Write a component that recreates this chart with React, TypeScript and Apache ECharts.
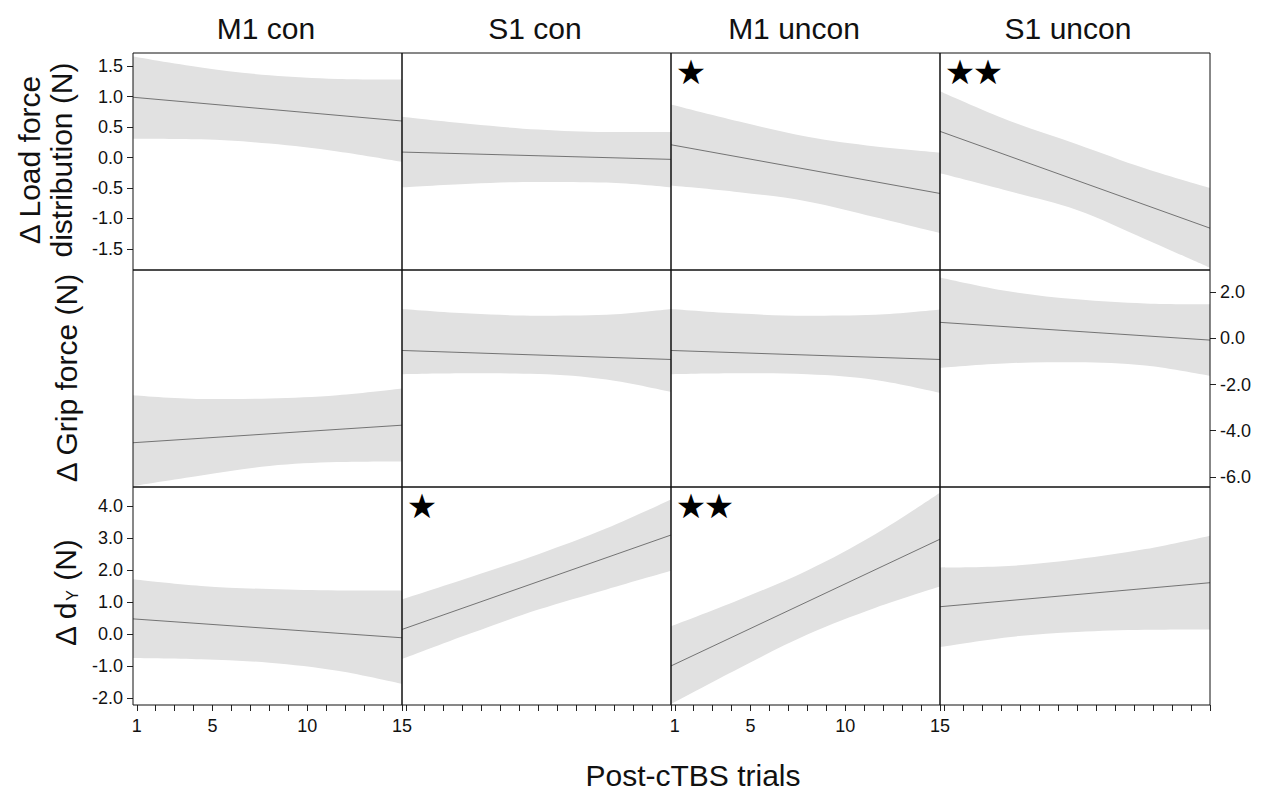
import React, { useEffect, useRef } from "react";
import * as echarts from "echarts";

// ---------- data ----------
const COLUMNS = ["M1 con", "S1 con", "M1 uncon", "S1 uncon"];
const X_POINTS = [0.8, 4.4, 8, 11.6, 15];
const X_FIT = [0.8, 15];
const X_TICKS = [1, 2, 3, 4, 5, 6, 7, 8, 9, 10, 11, 12, 13, 14, 15];
const X_LABELS = [1, 5, 10, 15];

// Row 1: Δ Load force distribution (N)
const LOAD_RANGE = [-1.847, 1.717];
const LOAD_TICKS = [-1.5, -1, -0.5, 0, 0.5, 1, 1.5];
const loadFit = [[0.99, 0.6], [0.09, -0.03], [0.21, -0.59], [0.43, -1.16]];
const loadUpper = [
  [1.66, 1.48, 1.35, 1.29, 1.28],
  [0.67, 0.55, 0.46, 0.42, 0.42],
  [0.87, 0.59, 0.34, 0.18, 0.08],
  [1.09, 0.61, 0.22, -0.18, -0.5],
];
const loadLower = [
  [0.31, 0.3, 0.23, 0.1, -0.07],
  [-0.49, -0.43, -0.4, -0.41, -0.49],
  [-0.46, -0.57, -0.72, -0.98, -1.24],
  [-0.26, -0.55, -0.86, -1.34, -1.81],
];

// Row 2: Δ Grip force (N)
const GRIP_RANGE = [-6.44, 2.97];
const GRIP_TICKS = [-6, -4, -2, 0, 2];
const gripFit = [[-4.52, -3.76], [-0.52, -0.91], [-0.52, -0.91], [0.7, -0.07]];
const gripUpper = [
  [-2.46, -2.62, -2.6, -2.46, -2.17],
  [1.28, 1.08, 0.99, 1.03, 1.28],
  [1.28, 1.08, 0.99, 1.03, 1.26],
  [2.65, 2.05, 1.7, 1.52, 1.48],
];
const gripLower = [
  [-6.4, -5.94, -5.53, -5.36, -5.33],
  [-1.55, -1.51, -1.54, -1.78, -2.32],
  [-1.55, -1.51, -1.55, -1.8, -2.36],
  [-1.27, -1.07, -1.03, -1.17, -1.62],
];

// Row 3: Δ dY (N)
const DY_RANGE = [-2.22, 4.59];
const DY_TICKS = [-2, -1, 0, 1, 2, 3, 4];
const dyFit = [[0.47, -0.12], [0.14, 3.09], [-1.0, 2.96], [0.85, 1.6]];
const dyUpper = [
  [1.71, 1.5, 1.4, 1.36, 1.36],
  [1.08, 1.77, 2.49, 3.3, 4.2],
  [0.24, 1.07, 1.98, 3.12, 4.41],
  [2.07, 2.12, 2.33, 2.65, 3.07],
];
const dyLower = [
  [-0.75, -0.79, -0.9, -1.15, -1.56],
  [-0.79, 0.01, 0.76, 1.39, 1.97],
  [-2.19, -1.07, -0.02, 0.82, 1.48],
  [-0.41, -0.1, 0.06, 0.13, 0.14],
];

// significance stars: [row, col, count]
const STARS = [
  [0, 2, 1],
  [0, 3, 2],
  [2, 1, 1],
  [2, 2, 2],
];

// ---------- layout ----------
const FONT = "Liberation Sans, Arial, sans-serif";
const GRID_LEFT = [133, 402, 671, 940];
const GRID_WIDTH = [269, 269, 269, 270];
const GRID_TOP = [53, 270, 487];
const GRID_HEIGHT = [217, 217, 218];

const ROWS = [
  { range: LOAD_RANGE, ticks: LOAD_TICKS, fit: loadFit, upper: loadUpper, lower: loadLower, axisCol: 0, pos: "left" },
  { range: GRIP_RANGE, ticks: GRIP_TICKS, fit: gripFit, upper: gripUpper, lower: gripLower, axisCol: 3, pos: "right" },
  { range: DY_RANGE, ticks: DY_TICKS, fit: dyFit, upper: dyUpper, lower: dyLower, axisCol: 0, pos: "left" },
];

function buildOption() {
  const grid: any[] = [];
  const xAxis: any[] = [];
  const yAxis: any[] = [];
  const series: any[] = [];
  ROWS.forEach((row, r) => {
    COLUMNS.forEach((_, c) => {
      const g = r * 4 + c;
      grid.push({
        left: GRID_LEFT[c],
        top: GRID_TOP[r],
        width: GRID_WIDTH[c],
        height: GRID_HEIGHT[r],
        show: true,
        z: 10,
        borderColor: "#111",
        borderWidth: 1,
        backgroundColor: "transparent",
        containLabel: false,
      });
      const bottomRow = r === 2;
      xAxis.push({
        type: "value",
        gridIndex: g,
        min: 0.8,
        max: 15,
        show: bottomRow,
        position: "bottom",
        axisLine: { show: false, onZero: false },
        splitLine: { show: false },
        axisTick: {
          show: bottomRow,
          customValues: X_TICKS,
          length: 6,
          lineStyle: { color: "#222", width: 1 },
        },
        axisLabel: {
          show: bottomRow && (c === 0 || c === 2),
          customValues: X_LABELS,
          fontSize: 18,
          fontFamily: FONT,
          color: "#111",
          margin: 12,
        },
      });
      const hasAxis = c === row.axisCol;
      yAxis.push({
        type: "value",
        gridIndex: g,
        min: row.range[0],
        max: row.range[1],
        show: hasAxis,
        position: row.pos,
        axisLine: { show: false, onZero: false },
        splitLine: { show: false },
        axisTick: {
          show: true,
          customValues: row.ticks,
          length: 6,
          lineStyle: { color: "#222", width: 1 },
        },
        axisLabel: {
          show: true,
          customValues: row.ticks,
          formatter: (v: number) => Number(v).toFixed(1),
          fontSize: 18,
          fontFamily: FONT,
          color: "#111",
          margin: 10,
        },
      });
      const lo = row.lower[c];
      const up = row.upper[c];
      // gray band: fill below upper edge, then cover below lower edge with white
      series.push({
        type: "line",
        xAxisIndex: g,
        yAxisIndex: g,
        data: X_POINTS.map((x, i) => [x, up[i]]),
        symbol: "none",
        smooth: 0.35,
        lineStyle: { opacity: 0, width: 0 },
        areaStyle: { color: "#e1e1e1", opacity: 1, origin: "start" },
        silent: true,
        z: 2,
      });
      series.push({
        type: "line",
        xAxisIndex: g,
        yAxisIndex: g,
        data: X_POINTS.map((x, i) => [x, lo[i]]),
        symbol: "none",
        smooth: 0.35,
        lineStyle: { opacity: 0, width: 0 },
        areaStyle: { color: "#ffffff", opacity: 1, origin: "start" },
        silent: true,
        z: 3,
      });
      series.push({
        type: "line",
        xAxisIndex: g,
        yAxisIndex: g,
        data: X_FIT.map((x, i) => [x, row.fit[c][i]]),
        symbol: "none",
        lineStyle: { color: "#666", width: 0.9 },
        silent: true,
        z: 4,
      });
    });
  });

  const graphic: any[] = [];
  const titleX = [266, 535, 794, 1068];
  COLUMNS.forEach((t, c) => {
    graphic.push({
      type: "text",
      x: titleX[c],
      y: 28,
      z: 100,
      style: { text: t, font: `30px ${FONT}`, fill: "#111", align: "center", verticalAlign: "middle" },
    });
  });
  const yNames = [
    { text: "Δ Load force", x: 29, y: 160 },
    { text: "distribution (N)", x: 61, y: 160 },
    { text: "Δ Grip force (N)", x: 66, y: 378 },
  ];
  yNames.forEach((n) => {
    graphic.push({
      type: "text",
      x: n.x,
      y: n.y,
      z: 100,
      rotation: Math.PI / 2,
      style: { text: n.text, font: `30px ${FONT}`, fill: "#111", align: "center", verticalAlign: "middle" },
    });
  });
  graphic.push({
    type: "text",
    x: 63,
    y: 593,
    z: 100,
    rotation: Math.PI / 2,
    style: {
      text: "{a|Δ d}{s|Y}{a| (N)}",
      fill: "#111",
      align: "center",
      verticalAlign: "middle",
      rich: {
        a: { fontSize: 30, fontFamily: FONT, fill: "#111", lineHeight: 34, verticalAlign: "bottom" },
        s: { fontSize: 16, fontFamily: FONT, fill: "#111", lineHeight: 34, verticalAlign: "bottom", padding: [0, 1, 0, 1] },
      },
    },
  });
  graphic.push({
    type: "text",
    x: 693,
    y: 775,
    z: 100,
    style: { text: "Post-cTBS trials", font: `30px ${FONT}`, fill: "#111", align: "center", verticalAlign: "middle" },
  });
  STARS.forEach(([r, c, n]) => {
    for (let k = 0; k < n; k++) {
      graphic.push({
        type: "text",
        x: GRID_LEFT[c] + 20 + k * 28,
        y: GRID_TOP[r] + 19,
        z: 100,
        style: { text: "★", font: `34px DejaVu Sans`, fill: "#000", align: "center", verticalAlign: "middle" },
      });
    }
  });

  return { animation: false, backgroundColor: "#fff", grid, xAxis, yAxis, series, graphic };
}

export default function App() {
  const ref = useRef<HTMLDivElement>(null);
  useEffect(() => {
    if (!ref.current) return;
    const chart = echarts.init(ref.current, undefined, { renderer: "svg" });
    chart.setOption(buildOption() as any);
    return () => chart.dispose();
  }, []);
  return (
    <div
      ref={ref}
      style={{ position: "absolute", left: 0, top: 0, width: 1262, height: 790, background: "#fff" }}
    />
  );
}
